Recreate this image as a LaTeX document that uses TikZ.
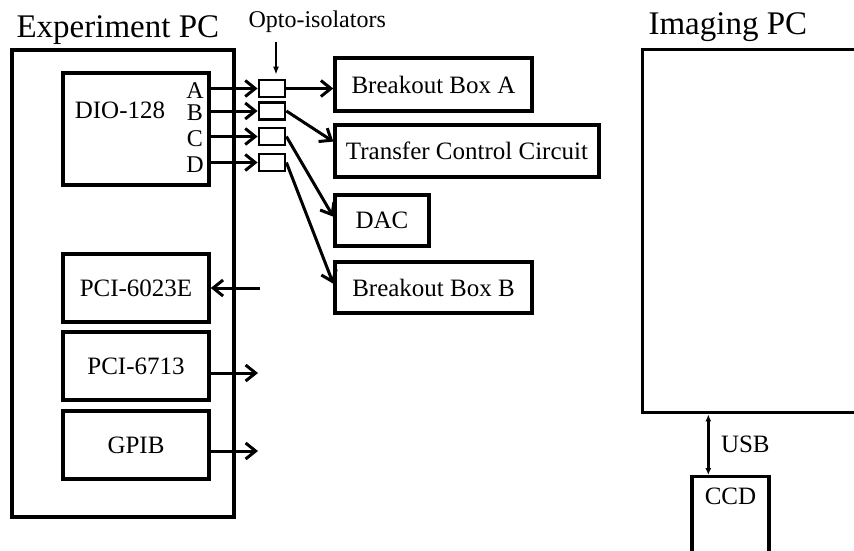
\documentclass[tikz,border=0pt]{standalone}
\usepackage{fontspec}
\setmainfont{Liberation Serif}
\usetikzlibrary{calc, positioning, shapes, arrows, arrows.meta}

\tikzset{
  blk/.style={draw, line width=3.4pt, inner sep=0pt},
  opto/.style={draw, line width=2.8pt, inner sep=0pt, minimum width=26pt, minimum height=17pt},
  wire/.style={line width=3pt, -{Straight Barb[length=10pt,width=16pt]}},
  usbwire/.style={line width=2.8pt, {Latex[length=7pt,width=6pt]}-{Latex[length=7pt,width=6pt]}},
  pointer/.style={line width=1.3pt, -{Latex[length=8pt,width=6pt]}},
  bigtitle/.style={font=\fontsize{33}{38}\selectfont},
  portlbl/.style={inner sep=0pt, font=\fontsize{24}{26}\selectfont},
}

\begin{document}
\begin{tikzpicture}[x=1pt,y=-1pt,font=\fontsize{25}{30}\selectfont]
\useasboundingbox (0,0) rectangle (854,550);
% experiment pc
\node[blk, minimum width=222pt, minimum height=467pt] (expc) at (123,283.5) {};
\node[bigtitle, anchor=base west] (expctitle) at (13,37) {Experiment PC};
\node[blk, minimum width=146pt, minimum height=112pt] (dio) at (136,129) {};
\node (diolbl) at (120,110) {DIO-128};
% opto-isolators
\node[anchor=base west, font=\fontsize{24}{28}\selectfont] (optlbl) at (245,27) {Opto-isolators};
\foreach \n/\l/\y in {1/A/88.5, 2/B/111, 3/C/136.5, 4/D/162.5}{
  \node[opto] (o\n) at (272,\y) {};
  \node[portlbl] (port\n) at (195,\y+2) {\l};
  \draw[wire] (dio.east |- o\n.west) -- (o\n.west);
}
\coordinate (optarr) at (276,42);
\draw[pointer] (optarr) -- ($(optarr |- o1.north)+(0,-4)$);
% outputs
\node[blk, minimum width=197pt, minimum height=53pt] (bba) at (433.5,84.5) {Breakout Box A};
\node[blk, minimum width=264pt, minimum height=52pt] (tcc) at (467,151) {Transfer Control Circuit};
\node[blk, minimum width=94pt, minimum height=51pt] (dac) at (382,220.5) {DAC};
\node[blk, minimum width=197pt, minimum height=51pt] (bbb) at (433.5,287.5) {Breakout Box B};
\draw[wire] (o1.east) -- (o1.east -| bba.west);
\draw[wire] (o2.east) -- ($(tcc.north west)!0.33!(tcc.south west)$);
\draw[wire] (o3.east) -- ($(dac.north west)!0.43!(dac.south west)$);
\draw[wire] (o4.east) -- ($(bbb.north west)!0.43!(bbb.south west)$);
% cards
\node[blk, minimum width=146pt, minimum height=68pt] (pcia) at (136,288) {PCI-6023E};
\node[blk, minimum width=146pt, minimum height=68pt] (pcib) at (136,366) {PCI-6713};
\node[blk, minimum width=146pt, minimum height=68pt] (gpib) at (136,445) {GPIB};
\coordinate (ina) at (260,288);
\coordinate (outb) at (258,373);
\coordinate (outc) at (258,451);
\draw[wire] (ina) -- (pcia.east);
\draw[wire] (outb -| pcib.east) -- (outb);
\draw[wire] (outc -| gpib.east) -- (outc);
% imaging pc
\node[blk, anchor=north west, minimum width=240pt, minimum height=363pt] (imgpc) at (641,48) {};
\node[bigtitle, anchor=base west] (imgtitle) at (645,34) {Imaging PC};
\node[blk, anchor=north, minimum width=77pt, text height=28pt, text depth=60pt] (ccd) at (730.5,475) {CCD};
\coordinate (usbb) at ($(ccd.north west)+(18,0)$);
\draw[usbwire] (usbb) -- (usbb |- imgpc.south) node[midway, right=8pt] (usblbl) {USB};
\end{tikzpicture}
\end{document}
